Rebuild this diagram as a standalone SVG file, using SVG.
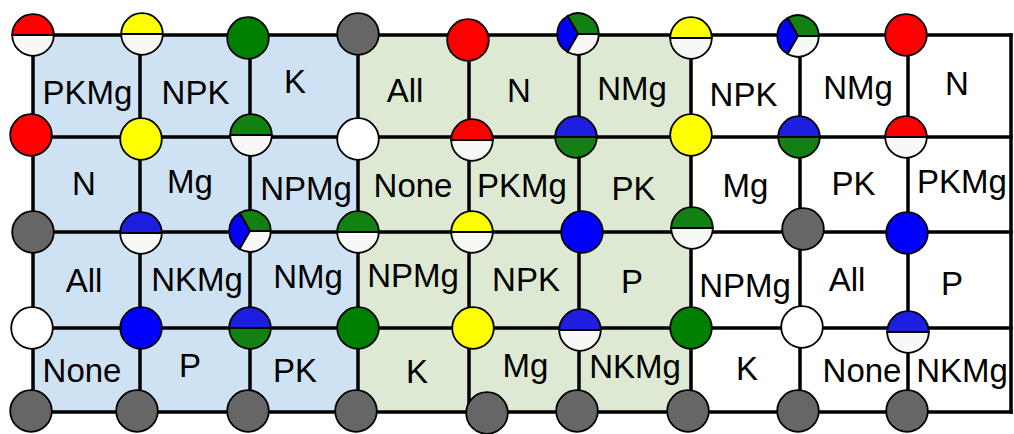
<svg xmlns="http://www.w3.org/2000/svg" width="1014" height="434" viewBox="0 0 1014 434">
<style>
.ln{stroke:#000;stroke-width:3.5;fill:none;stroke-linecap:square}
.c{stroke:#000;stroke-width:1.8}
.red{fill:#ff0000}.yel{fill:#ffff00}.grn{fill:#008000}.hgrn{fill:#128012}.blu{fill:#0000ff}.hblu{fill:#1e1ee0}.gry{fill:#666666}.wht{fill:#ffffff}.hwht{fill:#f8f8f6}
.t{font-family:"Liberation Sans",Arial,sans-serif;font-size:33px;fill:#000;text-anchor:middle}
</style>
<defs>
<g id="half-red"><path class="c red" d="M-20.8,0A20.8,20.8 0 0 1 20.8,0Z"/><path class="c hwht" d="M-20.8,0A20.8,20.8 0 0 0 20.8,0Z"/></g>
<g id="half-yel"><path class="c yel" d="M-20.8,0A20.8,20.8 0 0 1 20.8,0Z"/><path class="c hwht" d="M-20.8,0A20.8,20.8 0 0 0 20.8,0Z"/></g>
<g id="half-grn"><path class="c hgrn" d="M-20.8,0A20.8,20.8 0 0 1 20.8,0Z"/><path class="c hwht" d="M-20.8,0A20.8,20.8 0 0 0 20.8,0Z"/></g>
<g id="half-blu"><path class="c hblu" d="M-20.8,0A20.8,20.8 0 0 1 20.8,0Z"/><path class="c hwht" d="M-20.8,0A20.8,20.8 0 0 0 20.8,0Z"/></g>
<g id="half-blugrn"><path class="c hblu" d="M-20.8,0A20.8,20.8 0 0 1 20.8,0Z"/><path class="c hgrn" d="M-20.8,0A20.8,20.8 0 0 0 20.8,0Z"/></g>
<g id="tri"><path class="c hgrn" d="M0,0L20.8,0A20.8,20.8 0 0 0 -10.4,-18.01Z"/><path class="c blu" d="M0,0L-10.4,-18.01A20.8,20.8 0 0 0 -10.4,18.01Z"/><path class="c hwht" d="M0,0L-10.4,18.01A20.8,20.8 0 0 0 20.8,0Z"/></g>
<circle id="full-red" class="c red" r="20.8"/>
<circle id="full-yel" class="c yel" r="20.8"/>
<circle id="full-grn" class="c grn" r="20.8"/>
<circle id="full-blu" class="c blu" r="20.8"/>
<circle id="full-gry" class="c gry" r="20.8"/>
<circle id="full-wht" class="c wht" r="20.8"/>
</defs>
<rect width="1014" height="434" fill="#ffffff"/>
<g id="backgrounds">
<rect x="33" y="35" width="325" height="377" fill="#cfe2f3"/>
<rect x="358" y="35" width="333" height="377" fill="#dde9d2"/>
</g>
<g id="connectors">
<path class="ln" d="M33,35H1011M33,137H1011M33,232H1011M33,328H1011M33,412H1011"/>
<path class="ln" d="M33,35V412M140,35V412M250,35V412M358,35V412M469,35V412M579,35V412M691,35V412M800,35V412M908,35V412M1011,35V412"/>
</g>
<g id="nodes">
<g id="n-r0c0"><use href="#half-red" x="33" y="35"/></g>
<g id="n-r0c1"><use href="#half-yel" x="142" y="34"/></g>
<g id="n-r0c2"><use href="#full-grn" x="248" y="38"/></g>
<g id="n-r0c3"><use href="#full-gry" x="358" y="34"/></g>
<g id="n-r0c4"><use href="#full-red" x="468" y="40"/></g>
<g id="n-r0c5"><use href="#tri" x="578" y="34"/></g>
<g id="n-r0c6"><use href="#half-yel" x="691" y="38"/></g>
<g id="n-r0c7"><use href="#tri" x="798" y="36"/></g>
<g id="n-r0c8"><use href="#full-red" x="906" y="35"/></g>

<g id="n-r1c0"><use href="#full-red" x="31" y="135"/></g>
<g id="n-r1c1"><use href="#full-yel" x="141" y="139"/></g>
<g id="n-r1c2"><use href="#half-grn" x="251" y="135"/></g>
<g id="n-r1c3"><use href="#full-wht" x="358" y="139"/></g>
<g id="n-r1c4"><use href="#half-red" x="472" y="140"/></g>
<g id="n-r1c5"><use href="#half-blugrn" x="576" y="137"/></g>
<g id="n-r1c6"><use href="#full-yel" x="691" y="135"/></g>
<g id="n-r1c7"><use href="#half-blugrn" x="799" y="137"/></g>
<g id="n-r1c8"><use href="#half-red" x="906" y="137"/></g>

<g id="n-r2c0"><use href="#full-gry" x="33" y="232"/></g>
<g id="n-r2c1"><use href="#half-blu" x="141" y="233"/></g>
<g id="n-r2c2"><use href="#tri" x="250" y="231"/></g>
<g id="n-r2c3"><use href="#half-grn" x="358" y="232"/></g>
<g id="n-r2c4"><use href="#half-yel" x="472" y="232"/></g>
<g id="n-r2c5"><use href="#full-blu" x="582" y="232"/></g>
<g id="n-r2c6"><use href="#half-grn" x="692" y="228"/></g>
<g id="n-r2c7"><use href="#full-gry" x="803" y="229"/></g>
<g id="n-r2c8"><use href="#full-blu" x="907" y="233"/></g>

<g id="n-r3c0"><use href="#full-wht" x="32" y="328"/></g>
<g id="n-r3c1"><use href="#full-blu" x="141" y="328"/></g>
<g id="n-r3c2"><use href="#half-blugrn" x="250" y="328"/></g>
<g id="n-r3c3"><use href="#full-grn" x="358" y="328"/></g>
<g id="n-r3c4"><use href="#full-yel" x="473" y="328"/></g>
<g id="n-r3c5"><use href="#half-blu" x="580" y="330"/></g>
<g id="n-r3c6"><use href="#full-grn" x="691" y="328"/></g>
<g id="n-r3c7"><use href="#full-wht" x="802" y="327"/></g>
<g id="n-r3c8"><use href="#half-blu" x="908" y="332"/></g>

<g id="n-r4c0"><use href="#full-gry" x="31" y="411"/></g>
<g id="n-r4c1"><use href="#full-gry" x="137" y="411"/></g>
<g id="n-r4c2"><use href="#full-gry" x="248" y="411"/></g>
<g id="n-r4c3"><use href="#full-gry" x="356" y="411"/></g>
<g id="n-r4c4"><use href="#full-gry" x="487" y="413"/></g>
<g id="n-r4c5"><use href="#full-gry" x="577" y="411"/></g>
<g id="n-r4c6"><use href="#full-gry" x="688" y="411"/></g>
<g id="n-r4c7"><use href="#full-gry" x="798" y="411"/></g>
<g id="n-r4c8"><use href="#full-gry" x="907" y="411"/></g>
</g>
<g id="labels">
<g id="cell-a"><text class="t" x="87.5" y="104">PKMg</text><text class="t" x="195.5" y="104">NPK</text><text class="t" x="295" y="93">K</text><text class="t" x="405" y="102">All</text><text class="t" x="519" y="102">N</text><text class="t" x="632" y="100">NMg</text><text class="t" x="743.5" y="106">NPK</text><text class="t" x="858" y="99">NMg</text><text class="t" x="957" y="95">N</text></g>
<g id="cell-b"><text class="t" x="84" y="195">N</text><text class="t" x="190" y="193">Mg</text><text class="t" x="306" y="200">NPMg</text><text class="t" x="413" y="197">None</text><text class="t" x="522" y="197">PKMg</text><text class="t" x="633.5" y="200">PK</text><text class="t" x="745.5" y="197">Mg</text><text class="t" x="853.5" y="195">PK</text><text class="t" x="962" y="193">PKMg</text></g>
<g id="cell-c"><text class="t" x="84" y="292">All</text><text class="t" x="197" y="291">NKMg</text><text class="t" x="308" y="288">NMg</text><text class="t" x="413" y="287">NPMg</text><text class="t" x="526" y="291">NPK</text><text class="t" x="632" y="293">P</text><text class="t" x="745" y="297">NPMg</text><text class="t" x="847" y="291">All</text><text class="t" x="952" y="295">P</text></g>
<g id="cell-d"><text class="t" x="82" y="382">None</text><text class="t" x="190" y="377">P</text><text class="t" x="295" y="382">PK</text><text class="t" x="417" y="383">K</text><text class="t" x="525.5" y="377">Mg</text><text class="t" x="635" y="378">NKMg</text><text class="t" x="747" y="380">K</text><text class="t" x="862" y="382">None</text><text class="t" x="962" y="382">NKMg</text></g>
</g>
</svg>
